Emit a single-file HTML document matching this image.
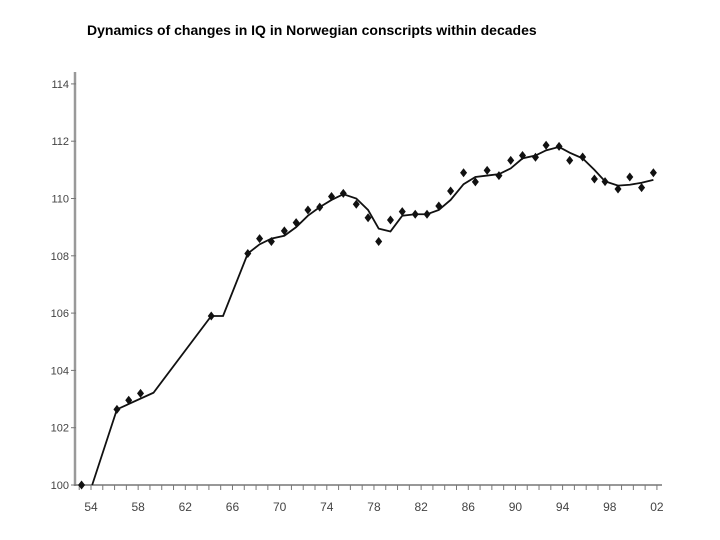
<!DOCTYPE html>
<html><head><meta charset="utf-8"><style>
body{margin:0;background:#fff;width:720px;height:540px;overflow:hidden}
svg{display:block}
text{font-family:"Liberation Sans",sans-serif}
</style></head><body>
<svg id="c" width="720" height="540">
<text x="87" y="35" font-size="14" font-weight="bold" fill="#000">Dynamics of changes in IQ in Norwegian conscripts within decades</text>
<g id="axes"></g><g id="marks"></g>
</svg>
<script>
const xTicks=[54,58,62,66,70,74,78,82,86,90,94,98,102];
const xTickLabels=["54","58","62","66","70","74","78","82","86","90","94","98","02"];
const yTicks=[100,102,104,106,108,110,112,114];
const ptYears=[53.2,56.2,57.2,58.2,64.2,67.3,68.3,69.3,70.4,71.4,72.4,73.4,74.4,75.4,76.5,77.5,78.4,79.4,80.4,81.5,82.5,83.5,84.5,85.6,86.6,87.6,88.6,89.6,90.6,91.7,92.6,93.7,94.6,95.7,96.7,97.6,98.7,99.7,100.7,101.7];
const ptIQ=[100.0,102.64,102.96,103.2,105.9,108.08,108.6,108.5,108.87,109.16,109.6,109.7,110.07,110.18,109.8,109.33,108.5,109.25,109.54,109.45,109.45,109.74,110.26,110.9,110.58,110.98,110.8,111.33,111.5,111.44,111.86,111.82,111.33,111.45,110.68,110.59,110.33,110.75,110.38,110.9];
const lineYears=[54.1,56.2,59.3,64.2,65.2,67.3,68.3,69.3,70.4,71.4,72.4,73.4,74.4,75.4,76.5,77.5,78.4,79.4,80.4,81.5,82.5,83.5,84.5,85.6,86.6,87.6,88.6,89.6,90.6,91.7,92.6,93.7,94.6,95.7,96.7,97.6,98.7,99.7,100.7,101.7];
const lineIQ=[100,102.64,103.22,105.9,105.9,108.08,108.4,108.6,108.7,109.0,109.4,109.7,109.95,110.15,110.0,109.6,108.95,108.85,109.4,109.45,109.45,109.6,109.95,110.5,110.75,110.8,110.85,111.05,111.4,111.5,111.68,111.8,111.6,111.4,111.0,110.6,110.45,110.48,110.55,110.65];
const X=v=>91+(v-54)*11.79, Y=v=>485-(v-100)*28.65;
const NS="http://www.w3.org/2000/svg";
function mk(t,a,p){const e=document.createElementNS(NS,t);for(const k in a)e.setAttribute(k,a[k]);p.appendChild(e);return e;}
const ax=document.getElementById('axes'), mg=document.getElementById('marks');
let e=mk('line',{x1:75,y1:72,x2:75,y2:486,stroke:'#999','stroke-width':2.5},ax);


e=mk('line',{x1:74,y1:485,x2:662,y2:485,stroke:'#777','stroke-width':1.5},ax);


for(let yr=53;yr<=102;yr++){const x=X(yr);e=mk('line',{x1:x,y1:485,x2:x,y2:490,stroke:'#777','stroke-width':1},ax);

}
xTicks.forEach((v,i)=>{e=mk('text',{x:X(v),y:511,'font-size':12,fill:'#444','text-anchor':'middle'},ax);e.textContent=xTickLabels[i];

});
yTicks.forEach(v=>{e=mk('line',{x1:71,y1:Y(v),x2:76,y2:Y(v),stroke:'#777'},ax);


e=mk('text',{x:69,y:Y(v)+4,'font-size':11,fill:'#444','text-anchor':'end'},ax);e.textContent=v;

});
e=mk('polyline',{points:lineYears.map((v,i)=>X(v)+','+Y(lineIQ[i])).join(' '),fill:'none',stroke:'#111','stroke-width':1.8},mg);


ptYears.forEach((v,i)=>{const x=X(v),y=Y(ptIQ[i]);
e=mk('path',{d:`M${x},${y-4.5}L${x+3.5},${y}L${x},${y+4.5}L${x-3.5},${y}Z`,fill:'#111'},mg);

});
</script>
</body></html>
